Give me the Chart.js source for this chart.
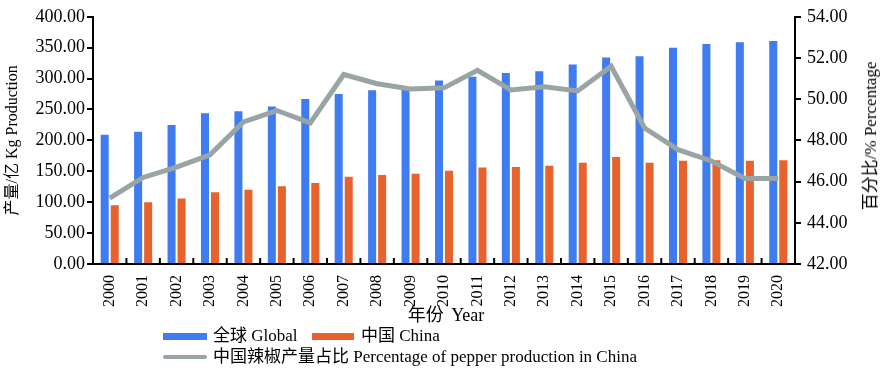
<!DOCTYPE html>
<html>
<head>
<meta charset="utf-8">
<script src="https://cdn.jsdelivr.net/npm/chart.js@4.4.0/dist/chart.umd.min.js"></script>
<style>
  body { margin:0; background:#fff; }
  #wrap { position:relative; width:886px; height:373px; font-family:"Liberation Serif","Noto Sans CJK SC",serif; color:#000; }
  #wrap canvas { position:absolute; left:0; top:0; }
  .lbl { position:absolute; font-size:17px; white-space:nowrap; line-height:18px; }
  .sw { position:absolute; }
</style>
</head>
<body>
<div id="wrap">
  <canvas id="barChart" width="886" height="373"></canvas>
  <div class="lbl" id="xTitle" style="left:446px; top:315px; font-size:18px; word-spacing:3px; transform:translate(-50%,-50%);">年份 Year</div>
  <div class="lbl" id="rTitle" style="left:871px; top:136px; font-size:17px; transform:translate(-50%,-50%) rotate(-90deg);">百分比/% Percentage</div>
  <div class="sw" style="left:163px; top:333px; width:44px; height:7px; background:#3f7cf0;"></div>
  <div class="lbl" style="left:213px; top:327px;">全球 Global</div>
  <div class="sw" style="left:312px; top:333px; width:42px; height:7px; background:#e8622d;"></div>
  <div class="lbl" style="left:361px; top:327px;">中国 China</div>
  <div class="sw" style="left:163px; top:355px; width:44px; height:4px; border-radius:2px; background:#99a5a5;"></div>
  <div class="lbl" style="left:213px; top:348px;">中国辣椒产量占比 Percentage of pepper production in China</div>
</div>
<script>
const years = ['2000','2001','2002','2003','2004','2005','2006','2007','2008','2009','2010',
  '2011','2012','2013','2014','2015','2016','2017','2018','2019','2020'];
const globalProd = [209,214,225,244,247,255,267,275,281,283,297,303,309,312,323,334,336,350,356,359,361];
const chinaProd = [95,100,106,116,120,126,131,141,144,146,151,156,157,159,164,173,164,167,168,167,168];
const chinaShare = [45.2,46.2,46.7,47.3,48.9,49.45,48.85,51.2,50.75,50.5,50.55,51.4,50.45,50.6,50.4,51.6,48.6,47.55,47.0,46.15,46.15];

const serif = '"Liberation Serif","Noto Sans CJK SC",serif';

// inward tick marks between the year categories
const innerTicks = {
  id:'innerTicks',
  afterDraw(chart){
    const x = chart.scales.x, ctx = chart.ctx, b = chart.chartArea.bottom;
    ctx.save();
    ctx.strokeStyle = '#000';
    ctx.lineWidth = 2;
    for(let i = 1; i < years.length; i++){
      const px = (x.getPixelForValue(i-1) + x.getPixelForValue(i)) / 2;
      ctx.beginPath();
      ctx.moveTo(px, b);
      ctx.lineTo(px, b - 6);
      ctx.stroke();
    }
    ctx.restore();
  }
};

new Chart(document.getElementById('barChart').getContext('2d'), {
  data:{
    labels:years,
    datasets:[
      { type:'line', label:'中国辣椒产量占比 Percentage of pepper production in China', data:chinaShare, yAxisID:'y1',
        borderColor:'#99a5a5', borderWidth:5, pointRadius:0, tension:0, order:0 },
      { type:'bar', label:'全球 Global', data:globalProd, yAxisID:'y', backgroundColor:'#3f7cf0',
        categoryPercentage:0.6, barPercentage:0.8, order:1 },
      { type:'bar', label:'中国 China', data:chinaProd, yAxisID:'y', backgroundColor:'#e8622d',
        categoryPercentage:0.6, barPercentage:0.8, order:1 }
    ]
  },
  options:{
    responsive:false,
    animation:false,
    layout:{ padding:{ top:8, bottom:0, left:0, right:0 } },
    plugins:{ legend:{ display:false }, tooltip:{ enabled:false } },
    scales:{
      x:{
        grid:{ display:false },
        border:{ color:'#000', width:2 },
        ticks:{ color:'#000', font:{ family:serif, size:16 }, minRotation:90, maxRotation:90, padding:3, autoSkip:false },
        afterFit(s){ s.height = 109; }
      },
      y:{
        position:'left', min:0, max:400,
        grid:{ drawOnChartArea:false, color:'#000', lineWidth:2, tickLength:6 },
        border:{ color:'#000', width:2 },
        ticks:{ stepSize:50, color:'#000', font:{ family:serif, size:18 }, padding:2, callback:v => v.toFixed(2) },
        title:{ display:true, text:'产量/亿 Kg Production', color:'#000', font:{ family:serif, size:16 }, padding:{ top:3, bottom:0 } },
        afterFit(s){ s.width = 93; }
      },
      y1:{
        position:'right', min:42, max:54,
        grid:{ drawOnChartArea:false, color:'#000', lineWidth:2, tickLength:6 },
        border:{ color:'#000', width:2 },
        ticks:{ stepSize:2, color:'#000', font:{ family:serif, size:18 }, padding:6, callback:v => v.toFixed(2) },
        afterFit(s){ s.width = 91; }
      }
    }
  },
  plugins:[innerTicks]
});
</script>
</body>
</html>
